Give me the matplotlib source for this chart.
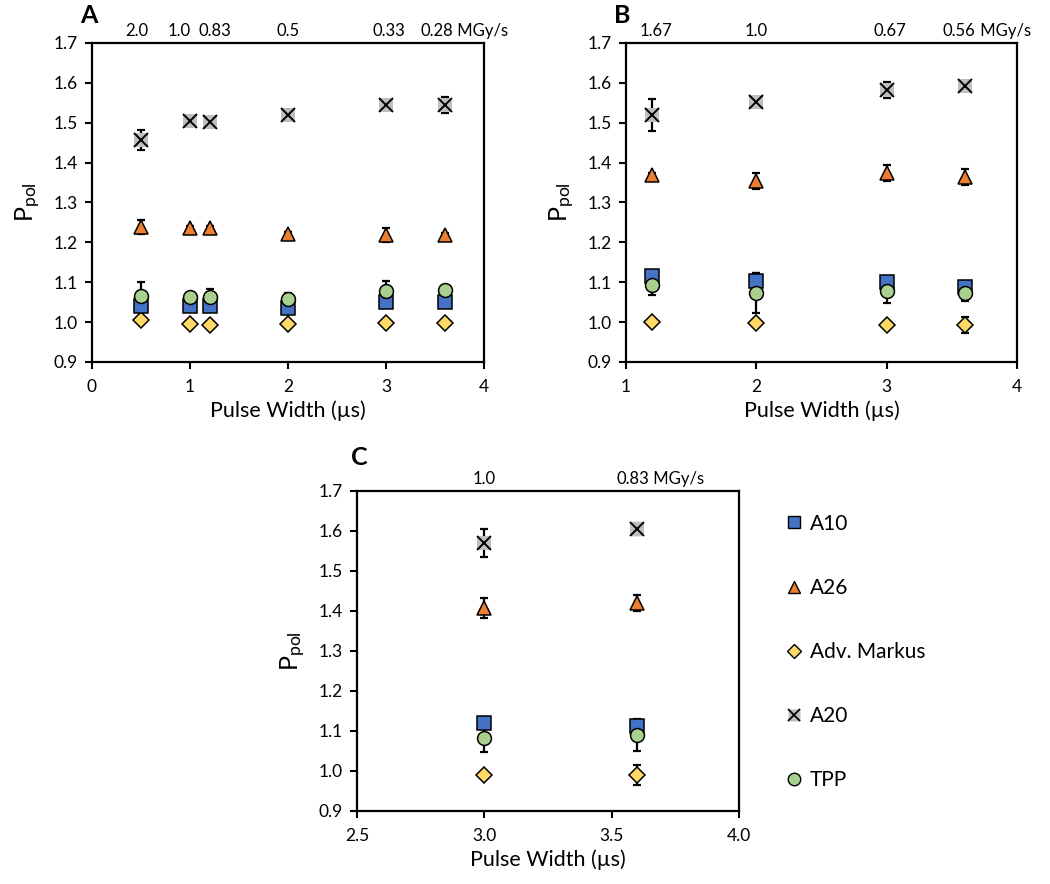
import matplotlib.pyplot as plt
from matplotlib.legend_handler import HandlerTuple
from matplotlib.lines import Line2D

plt.rcParams['font.family'] = ['Lato', 'DejaVu Sans']
plt.rcParams['mathtext.fontset'] = 'custom'
plt.rcParams['mathtext.rm'] = 'Lato'
plt.rcParams['mathtext.it'] = 'Lato'

# series names and colours
series = ['A10', 'A26', 'Adv. Markus', 'A20', 'TPP']
colors = {'A10': '#4472C4', 'A26': '#ED7D31', 'Adv. Markus': '#FFD966',
          'A20': '#BFBFBF', 'TPP': '#A9D18E'}
markers = {'A10': 's', 'A26': '^', 'Adv. Markus': 'D', 'A20': 's', 'TPP': 'o'}

# panel A
a_x = [0.5, 1.0, 1.2, 2.0, 3.0, 3.6]
a_rate = ['2.0', '1.0', '0.83', '0.5', '0.33', '0.28']
a_shift = [-3, -8, 4, 0, 2, -6]   # label nudges in points
a_y = {
    'A10': [1.040, 1.040, 1.040, 1.035, 1.050, 1.050],
    'A26': [1.238, 1.235, 1.235, 1.220, 1.218, 1.218],
    'Adv. Markus': [1.005, 0.995, 0.992, 0.995, 0.998, 0.998],
    'A20': [1.457, 1.505, 1.502, 1.520, 1.545, 1.545],
    'TPP': [1.065, 1.063, 1.063, 1.057, 1.077, 1.080],
}
a_err = {
    'A10': [0.005, 0.005, 0.005, 0.005, 0.005, 0.005],
    'A26': [0.018, 0.005, 0.005, 0.005, 0.018, 0.005],
    'Adv. Markus': [0.005, 0.004, 0.004, 0.004, 0.004, 0.004],
    'A20': [0.025, 0.005, 0.005, 0.005, 0.005, 0.020],
    'TPP': [0.035, 0.010, 0.020, 0.015, 0.025, 0.005],
}

# panel B
b_x = [1.2, 2.0, 3.0, 3.6]
b_rate = ['1.67', '1.0', '0.67', '0.56']
b_shift = [3, 0, 2, -4]
b_y = {
    'A10': [1.115, 1.103, 1.100, 1.088],
    'A26': [1.370, 1.355, 1.375, 1.365],
    'Adv. Markus': [1.000, 0.998, 0.993, 0.993],
    'A20': [1.520, 1.553, 1.583, 1.593],
    'TPP': [1.093, 1.072, 1.077, 1.073],
}
b_err = {
    'A10': [0.005, 0.020, 0.015, 0.005],
    'A26': [0.005, 0.020, 0.020, 0.020],
    'Adv. Markus': [0.004, 0.004, 0.004, 0.020],
    'A20': [0.040, 0.005, 0.020, 0.005],
    'TPP': [0.025, 0.050, 0.030, 0.020],
}

# panel C
c_x = [3.0, 3.6]
c_rate = ['1.0', '0.83']
c_shift = [0, -3]
c_y = {
    'A10': [1.120, 1.113],
    'A26': [1.408, 1.420],
    'Adv. Markus': [0.990, 0.990],
    'A20': [1.570, 1.605],
    'TPP': [1.083, 1.090],
}
c_err = {
    'A10': [0.005, 0.015],
    'A26': [0.025, 0.020],
    'Adv. Markus': [0.004, 0.025],
    'A20': [0.035, 0.015],
    'TPP': [0.035, 0.040],
}

fig = plt.figure(figsize=(10.5, 8.84), dpi=100)
ax_a = fig.add_axes([0.0876, 0.5905, 0.3733, 0.3609])
ax_b = fig.add_axes([0.5962, 0.5905, 0.3724, 0.3609])
ax_c = fig.add_axes([0.340, 0.0826, 0.3638, 0.3620])


def draw_panel(ax, xs, ys, errs, rates, shifts, xlim, xticks, xfmt, letter, lx, ly):
    for name in series:
        ax.errorbar(xs, ys[name], yerr=errs[name], fmt='none', ecolor='black',
                    elinewidth=1.6, capsize=3, capthick=1.6, zorder=2)
    for name in ['Adv. Markus', 'A10', 'TPP', 'A26', 'A20']:
        edge = 'none' if name == 'A20' else 'black'
        ax.plot(xs, ys[name], linestyle='none', marker=markers[name],
                markersize=10.5 if name == 'A20' else (8 if name == 'Adv. Markus' else 10),
                markerfacecolor=colors[name], markeredgecolor=edge,
                markeredgewidth=1.1, zorder=3)
        if name == 'A20':
            ax.plot(xs, ys[name], linestyle='none', marker='x', markersize=10,
                    markeredgecolor='black', markeredgewidth=1.4, zorder=4)
    ax.set_xlim(*xlim)
    ax.set_ylim(0.9, 1.7)
    ax.set_xticks(xticks)
    ax.set_xticklabels([xfmt.format(t) for t in xticks])
    ax.set_yticks([0.9 + 0.1 * i for i in range(9)])
    ax.set_yticklabels(['{:.1f}'.format(0.9 + 0.1 * i) for i in range(9)])
    ax.tick_params(axis='both', labelsize=12.5, width=1.5, length=5,
                   direction='out', top=False, right=False)
    ax.tick_params(axis='x', pad=7)
    ax.tick_params(axis='y', pad=5)
    for sp in ax.spines.values():
        sp.set_linewidth(1.6)
    ax.set_xlabel('Pulse Width (µs)', fontsize=15.5, labelpad=4)
    ax.set_ylabel('P$_{\\mathrm{pol}}$', fontsize=18, labelpad=8)
    last = None
    for x, r, s in zip(xs, rates, shifts):
        last = ax.annotate(r, xy=(x, 1.0), xycoords=('data', 'axes fraction'),
                           xytext=(s, 3), textcoords='offset points',
                           ha='center', va='bottom', fontsize=12)
    ax.annotate(' MGy/s', xy=(1, 0), xycoords=last, ha='left', va='bottom',
                fontsize=12)
    ax.text(lx, ly, letter, transform=ax.transAxes, fontsize=18,
            fontweight='bold', ha='left', va='bottom')


draw_panel(ax_a, a_x, a_y, a_err, a_rate, a_shift, (0, 4), [0, 1, 2, 3, 4], '{:d}',
           'A', -0.03, 1.05)
draw_panel(ax_b, b_x, b_y, b_err, b_rate, b_shift, (1, 4), [1, 2, 3, 4], '{:d}',
           'B', -0.03, 1.05)
draw_panel(ax_c, c_x, c_y, c_err, c_rate, c_shift, (2.5, 4.0), [2.5, 3.0, 3.5, 4.0],
           '{:.1f}', 'C', -0.015, 1.07)

# legend beside panel C
handles = []
for name in series:
    if name == 'A20':
        sq = Line2D([], [], linestyle='none', marker='s', markersize=9,
                    markerfacecolor=colors[name], markeredgecolor='none')
        xx = Line2D([], [], linestyle='none', marker='x', markersize=9,
                    markeredgecolor='black', markeredgewidth=1.3)
        handles.append((sq, xx))
    else:
        handles.append(Line2D([], [], linestyle='none', marker=markers[name],
                              markersize=9 if name != 'Adv. Markus' else 7,
                              markerfacecolor=colors[name], markeredgecolor='black',
                              markeredgewidth=1.0))
fig.legend(handles, series, loc='upper left', bbox_to_anchor=(0.728, 0.44),
           frameon=False, fontsize=15, labelspacing=2.12, handletextpad=0.3,
           handlelength=1.0, handler_map={tuple: HandlerTuple(ndivide=1, pad=0)})

fig.savefig('out.png', dpi=100)
